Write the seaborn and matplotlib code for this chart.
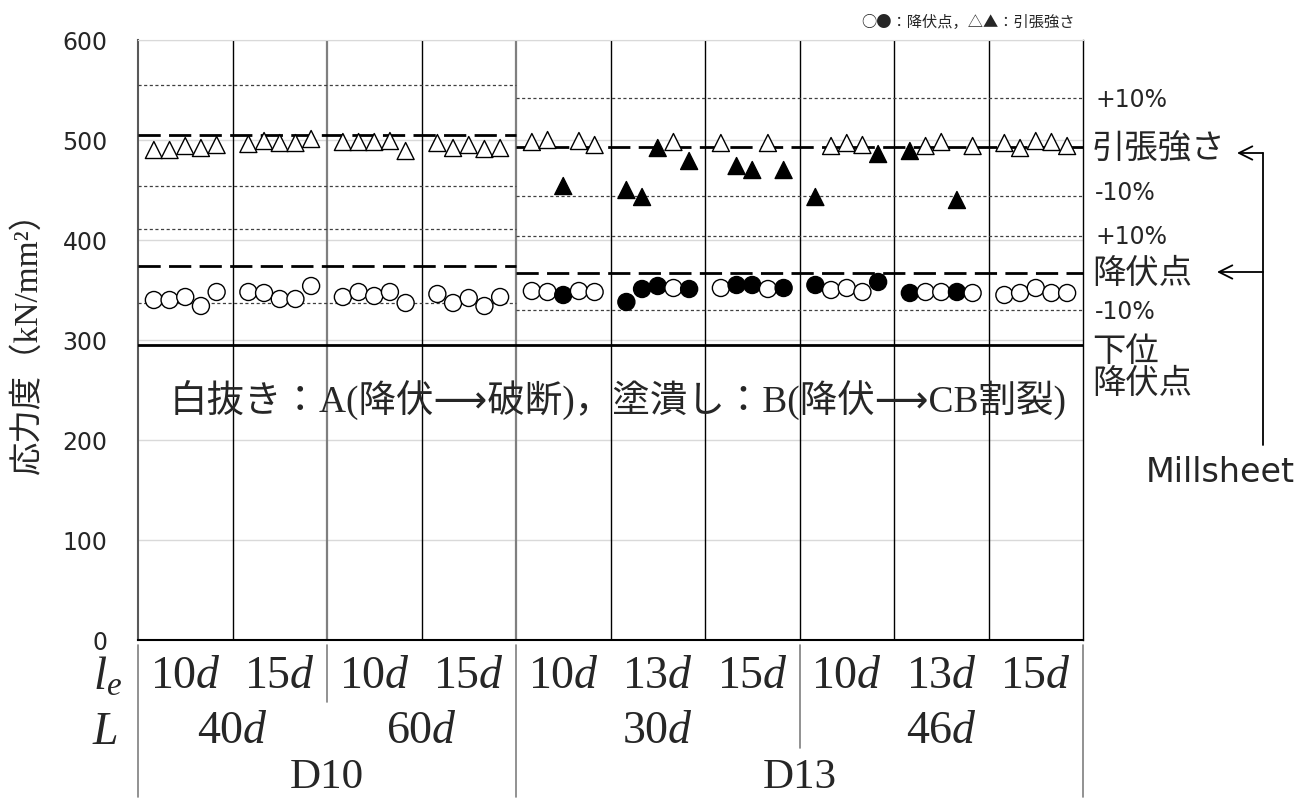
import matplotlib
matplotlib.use("Agg")
import matplotlib.pyplot as plt
import pandas as pd
import seaborn as sns

# test series (5 specimens per series)
le_labels = ["10d", "15d", "10d", "15d", "10d", "13d", "15d", "10d", "13d", "15d"]
L_labels = ["40d", "60d", "30d", "46d"]
L_groups = [(0, 1), (2, 3), (4, 6), (7, 9)]
bar_labels = ["D10", "D13"]
bar_groups = [(0, 3), (4, 9)]

yield_pt = [
    [340, 340, 343, 334, 348],
    [348, 347, 341, 341, 354],
    [343, 348, 344, 348, 337],
    [346, 337, 342, 334, 343],
    [349, 348, 345, 349, 348],
    [338, 351, 354, 352, 351],
    [352, 355, 355, 351, 352],
    [355, 350, 352, 348, 358],
    [347, 348, 348, 348, 347],
    [345, 347, 352, 347, 347],
]
tensile = [
    [490, 490, 494, 492, 495],
    [496, 499, 497, 497, 501],
    [498, 498, 498, 499, 489],
    [497, 492, 495, 491, 492],
    [498, 500, 454, 499, 495],
    [450, 443, 492, 498, 479],
    [497, 474, 470, 497, 470],
    [443, 494, 497, 495, 486],
    [489, 494, 498, 440, 494],
    [497, 492, 499, 498, 494],
]
# A: yield -> rupture (open), B: yield -> CB splitting (filled)
mode = [
    "AAAAA", "AAAAA", "AAAAA", "AAAAA",
    "AABAA", "BBBAB", "ABBAB", "BAAAB", "BAABA", "AAAAA",
]

# millsheet values for D10 / D13
mill_tensile = [505, 493]
mill_yield = [374, 367]
lower_yield = 295

rows = []
for g in range(len(le_labels)):
    for s in range(5):
        xpos = g + (s - 2) * 0.166
        rows.append(dict(x=xpos, y=yield_pt[g][s], kind="yield", mode=mode[g][s]))
        rows.append(dict(x=xpos, y=tensile[g][s], kind="tensile", mode=mode[g][s]))
df = pd.DataFrame(rows)

sns.set_style("white")
plt.rcParams["font.family"] = ["DejaVu Sans", "Noto Sans CJK JP"]
plt.rcParams["mathtext.fontset"] = "custom"
plt.rcParams["mathtext.rm"] = "Liberation Serif"
plt.rcParams["mathtext.it"] = "Liberation Serif:italic"

CJK = ["Noto Sans CJK JP", "DejaVu Sans"]
MIX = ["Liberation Serif", "Noto Sans CJK JP", "DejaVu Sans"]

fig = plt.figure(figsize=(13.12, 8), dpi=100)
ax = fig.add_axes([138 / 1312, 160 / 800, 945 / 1312, 600 / 800])


def px_x(px):
    return -0.5 + (px - 138) / 94.5


# group dividers
for b in range(1, len(le_labels)):
    if b in (2, 4):
        ax.axvline(b - 0.5, color="#7f7f7f", lw=1.6, zorder=2)
    else:
        ax.axvline(b - 0.5, color="black", lw=1.0, zorder=2)

# millsheet lines
for (g0, g1), t, yv in zip(bar_groups, mill_tensile, mill_yield):
    for v in (t, yv):
        ax.hlines(v, g0 - 0.5, g1 + 0.5, colors="black", lw=2.0,
                  linestyles=(0, (8, 3)), zorder=3)
        ax.hlines([v * 1.1, v * 0.9], g0 - 0.5, g1 + 0.5, colors="#404040",
                  lw=0.9, linestyles=(0, (2.5, 2)), zorder=3)
ax.axhline(lower_yield, color="black", lw=2.0, zorder=3)

sns.scatterplot(data=df, x="x", y="y", hue="mode", style="kind",
                palette={"A": "white", "B": "black"},
                markers={"yield": "o", "tensile": "^"},
                s=150, edgecolor="black", linewidth=1.0, legend=False,
                ax=ax, zorder=5)

ax.set_xlim(-0.5, 9.5)
ax.set_ylim(0, 600)
ax.set_yticks(range(0, 601, 100))
ax.set_xticks([])
ax.set_xlabel("")
ax.tick_params(axis="y", length=0, pad=22, labelsize=17)
ax.yaxis.grid(True, color="#d9d9d9", lw=1)
ax.set_axisbelow(True)
ax.spines["left"].set_color("#595959")
ax.spines["left"].set_linewidth(1.5)
ax.spines["bottom"].set_color("black")
ax.spines["bottom"].set_linewidth(1.5)
ax.spines["right"].set_color("black")
ax.spines["right"].set_linewidth(1.0)
ax.spines["top"].set_color("#d9d9d9")

ax.set_ylabel("応力度（kN/mm²）", family=MIX, fontsize=24)
ax.yaxis.set_label_coords(-0.100, 0.51)

# legend note and inner caption
ax.text(px_x(1075), 1.03, "○●：降伏点，△▲：引張強さ", transform=ax.get_xaxis_transform(),
        ha="right", va="center", family=CJK, fontsize=11)
ax.text(px_x(618), 240, "白抜き：A(降伏⟶破断)，塗潰し：B(降伏⟶CB割裂)",
        ha="center", va="center", family=MIX, fontsize=27, zorder=6)

# right side labels
xr = px_x(1095)
for v, s in [(540, "+10%"), (447, "-10%"), (403, "+10%"), (328, "-10%")]:
    ax.text(xr, v, s, ha="left", va="center", fontsize=17)
for v, s in [(491, "引張強さ"), (366, "降伏点"), (289, "下位"), (257, "降伏点")]:
    ax.text(px_x(1092), v, s, ha="left", va="center", family=CJK, fontsize=24)
xb = px_x(1263)
for v, tip in [(487, 1237), (368, 1217)]:
    ax.annotate("", xy=(px_x(tip), v), xytext=(xb, v), annotation_clip=False,
                arrowprops=dict(arrowstyle="->", lw=1.3, color="black",
                                shrinkA=0, shrinkB=0, mutation_scale=24))
ax.plot([xb, xb], [487, 195], color="black", lw=1.3, clip_on=False)
ax.text(px_x(1220), 167, "Millsheet", ha="center", va="center", fontsize=24)

# table under the axis
tr = ax.get_xaxis_transform()
row1, row2, row3 = -0.062, -0.153, -0.247
ax.text(px_x(108), row1, r"$l_e$", transform=tr, ha="center", va="center", fontsize=34)
ax.text(px_x(105), row2, r"$L$", transform=tr, ha="center", va="center", fontsize=33)
for g, lab in enumerate(le_labels):
    ax.text(g, row1, lab[:-1] + r"$\mathit{d}$", transform=tr, ha="center", va="center",
            family="Liberation Serif", fontsize=33)
for (g0, g1), lab in zip(L_groups, L_labels):
    ax.text((g0 + g1) / 2, row2, lab[:-1] + r"$\mathit{d}$", transform=tr, ha="center",
            va="center", family="Liberation Serif", fontsize=33)
for (g0, g1), lab in zip(bar_groups, bar_labels):
    ax.text((g0 + g1) / 2, row3, lab, transform=tr, ha="center", va="baseline",
            family="Liberation Serif", fontsize=31)
for xv, y1 in [(-0.5, -0.262), (1.5, -0.103), (3.5, -0.262), (6.5, -0.18), (9.5, -0.262)]:
    ax.plot([xv, xv], [-0.008, y1], transform=tr, color="#7f7f7f", lw=1.2, clip_on=False)

fig.savefig("out.png", dpi=100)
